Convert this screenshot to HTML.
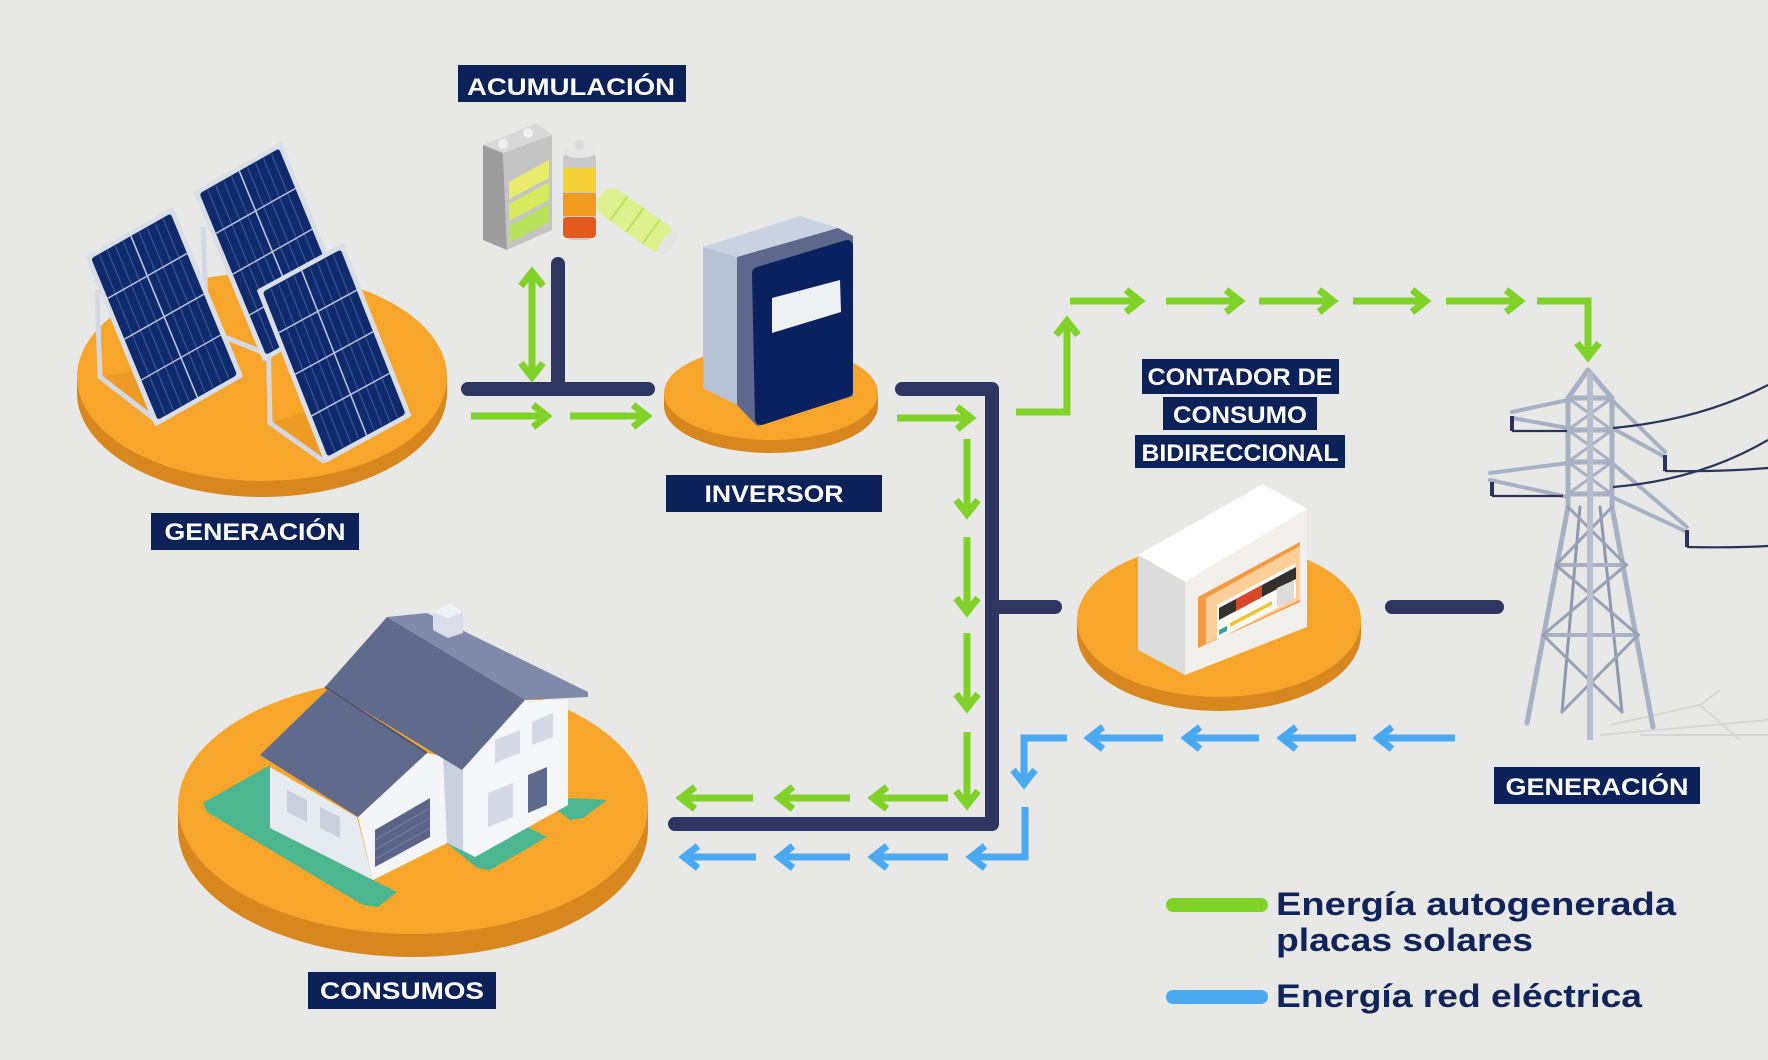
<!DOCTYPE html>
<html><head><meta charset="utf-8"><style>
html,body{margin:0;padding:0;background:#e8e8e6;}
svg{display:block;}
</style></head><body>
<svg width="1768" height="1060" viewBox="0 0 1768 1060" xmlns="http://www.w3.org/2000/svg">
<defs>
<g id="panel">
<rect x="0" y="0" width="100" height="200" fill="#d9dee9" rx="2"/>
<rect x="5" y="5" width="90" height="190" fill="#0f2a6c" rx="3"/>
<g stroke="#34508f" stroke-width="1.4">
<line x1="14" y1="6" x2="14" y2="194"/><line x1="23" y1="6" x2="23" y2="194"/><line x1="32" y1="6" x2="32" y2="194"/><line x1="41" y1="6" x2="41" y2="194"/>
<line x1="59" y1="6" x2="59" y2="194"/><line x1="68" y1="6" x2="68" y2="194"/><line x1="77" y1="6" x2="77" y2="194"/><line x1="86" y1="6" x2="86" y2="194"/>
</g>
<g stroke="#b9c4de" stroke-width="1.6">
<line x1="5" y1="52" x2="95" y2="52"/><line x1="5" y1="100" x2="95" y2="100"/><line x1="5" y1="148" x2="95" y2="148"/>
<line x1="50" y1="5" x2="50" y2="195"/>
</g>
</g>
</defs>
<rect width="1768" height="1060" fill="#e8e8e6"/>

<!-- discs -->
<g>
<ellipse cx="262" cy="393" rx="185" ry="104" fill="#d8861e"/>
<rect x="77" y="377" width="370" height="16" fill="#d8861e"/>
<ellipse cx="262" cy="377" rx="185" ry="104" fill="#f7a52b"/>

<ellipse cx="771" cy="406" rx="107" ry="47" fill="#d8861e"/>
<rect x="664" y="393" width="214" height="13" fill="#d8861e"/>
<ellipse cx="771" cy="393" rx="107" ry="47" fill="#f7a52b"/>

<ellipse cx="1219" cy="634" rx="142" ry="77" fill="#d8861e"/>
<rect x="1077" y="620" width="284" height="14" fill="#d8861e"/>
<ellipse cx="1219" cy="620" rx="142" ry="77" fill="#f7a52b"/>

<ellipse cx="413" cy="829" rx="235" ry="128" fill="#d8861e"/>
<rect x="178" y="806" width="470" height="23" fill="#d8861e"/>
<ellipse cx="413" cy="806" rx="235" ry="128" fill="#f7a52b"/>
</g>

<!-- panel shadows -->
<g fill="#e6951f" opacity="0.6">
<polygon points="100,377 157,420 242,378 200,360"/>
<polygon points="270,423 325,462 412,410 360,395"/>
</g>
<!-- panel legs -->
<g stroke="#d3d8e4" stroke-width="5" fill="none" stroke-linejoin="round">
<polyline points="97,290 100,377 157,421"/>
<polyline points="203,227 207,330 262,352"/>
<polyline points="268,327 270,423 325,462"/>
</g>
<!-- panels -->
<use href="#panel" transform="matrix(0.883,-0.5,0.35,0.85,193.3,191.7)"/>
<use href="#panel" transform="matrix(0.883,-0.5,0.35,0.85,85,256.7)"/>
<use href="#panel" transform="matrix(0.866,-0.473,0.3415,0.8665,256.7,290)"/>

<!-- batteries -->
<g>
<polygon points="483,145 537,123 552,135 503,153" fill="#d8d8d8"/>
<polygon points="483,145 503,153 507,250 483,240" fill="#9d9d9d"/>
<polygon points="503,153 552,135 552,230 507,250" fill="#c4c4c4"/>
<circle cx="503" cy="144" r="5" fill="#f0f0f0"/>
<circle cx="528" cy="133" r="5" fill="#f0f0f0"/>
<polygon points="509,182 549,160 549,178 509,199" fill="#e9ec6a"/>
<polygon points="509,204 549,182 549,200 509,221" fill="#d5ea5e"/>
<polygon points="509,226 549,204 549,222 509,243" fill="#b8e25c"/>
<rect x="563" y="150" width="33" height="90" rx="10" fill="#c9c9c9"/>
<rect x="563" y="168" width="33" height="24" fill="#f4cf35"/>
<rect x="563" y="193" width="33" height="23" fill="#f29a22"/>
<rect x="563" y="217" width="33" height="21" rx="4" fill="#e25a1c"/>
<ellipse cx="579.5" cy="152" rx="16" ry="6" fill="#e6e6e6"/>
<rect x="575" y="140" width="9" height="10" rx="3" fill="#dcdcdc"/>
<g transform="translate(635,220) rotate(35.5)">
<rect x="-42" y="-15" width="84" height="30" rx="12" fill="#dff18f"/>
<line x1="-20" y1="-15" x2="-20" y2="15" stroke="#bfdf5c" stroke-width="2"/>
<line x1="0" y1="-15" x2="0" y2="15" stroke="#bfdf5c" stroke-width="2"/>
<line x1="20" y1="-15" x2="20" y2="15" stroke="#bfdf5c" stroke-width="2"/>
<ellipse cx="40" cy="0" rx="6" ry="14" fill="#e4e4e4"/>
</g>
</g>

<!-- inverter -->
<g>
<polygon points="703,247 737,257 737,405 703,388" fill="#b6c2d4"/>
<polygon points="703,247 800,216 838,228 737,257" fill="#c9d2e0"/>
<polygon points="737,257 838,228 853,236 853,396 757,426 737,405" fill="#5d688c"/>
<polygon points="758,273 847,246 847,391 761,419" fill="#0a2160" stroke="#0a2160" stroke-width="12" stroke-linejoin="round"/>
<polygon points="772,298 840,280 841,312 772,333" fill="#eef0f3"/>
</g>

<!-- navy wires -->
<g stroke="#2d3560" stroke-width="14" fill="none" stroke-linecap="round" stroke-linejoin="round">
<path d="M468 389H648"/>
<path d="M558 264V389"/>
<path d="M902 389H992V824H675"/>
<path d="M992 607H1055"/>
<path d="M1392 607H1497"/>
</g>

<!-- green arrows -->
<g stroke="#80d228" stroke-width="7" fill="none" stroke-linejoin="miter" stroke-miterlimit="10">
<path d="M471 416H545M533 405L547 416L533 427"/>
<path d="M570 416H645M633 405L647 416L633 427"/>
<path d="M897 418H969M957 407L971 418L957 429"/>
<path d="M1016 412H1067V323M1056 335L1067 321L1078 335"/>
<path d="M1070 301H1138M1126 290L1140 301L1126 312"/>
<path d="M1166 301H1238M1226 290L1240 301L1226 312"/>
<path d="M1259 301H1331M1319 290L1333 301L1319 312"/>
<path d="M1353 301H1424M1412 290L1426 301L1412 312"/>
<path d="M1446 301H1518M1506 290L1520 301L1506 312"/>
<path d="M1537 301H1588V355M1577 343L1588 357L1599 343"/>
<path d="M532 274V375M521 286L532 272L543 286M521 363L532 377L543 363"/>
<path d="M967 439V512M956 500L967 514L978 500"/>
<path d="M967 537V610M956 598L967 612L978 598"/>
<path d="M967 633V706M956 694L967 708L978 694"/>
<path d="M967 732V803M956 791L967 805L978 791"/>
<path d="M753 798H683M695 787L681 798L695 809"/>
<path d="M850 798H781M793 787L779 798L793 809"/>
<path d="M948 798H875M887 787L873 798L887 809"/>
</g>
<!-- blue arrows -->
<g stroke="#4aa9f1" stroke-width="7" fill="none" stroke-linejoin="miter" stroke-miterlimit="10">
<path d="M756 857H686M698 846L684 857L698 868"/>
<path d="M850 857H781M793 846L779 857L793 868"/>
<path d="M948 857H875M887 846L873 857L887 868"/>
<path d="M1025 807V857H973M985 846L971 857L985 868"/>
<path d="M1163 738H1091M1103 727L1089 738L1103 749"/>
<path d="M1259 738H1188M1200 727L1186 738L1200 749"/>
<path d="M1356 738H1284M1296 727L1282 738L1296 749"/>
<path d="M1455 738H1380M1392 727L1378 738L1392 749"/>
<path d="M1067 738H1024V782M1013 770L1024 784L1035 770"/>
</g>

<!-- meter -->
<g>
<polygon points="1138,555 1263,484 1307,509 1185,582" fill="#ffffff"/>
<polygon points="1138,555 1185,582 1185,675 1138,650" fill="#dcdcdc"/>
<polygon points="1185,582 1307,509 1307,627 1185,675" fill="#f2f0ec"/>
<polygon points="1198,597 1300,542 1300,602 1198,648" fill="#f59a40"/>
<polygon points="1206,598 1300,546 1300,600 1206,644" fill="#fbcf97"/>
<polygon points="1217,605 1296,563 1296,598 1217,640" fill="#fbfaf7"/>
<polygon points="1219,608 1296,567 1296,579 1219,620" fill="#33302e"/>
<polygon points="1236,599 1262,585 1262,597 1236,611" fill="#d9472b"/>
<polygon points="1230,623 1272,601 1272,605 1230,627" fill="#f1c232"/>
<polygon points="1219,630 1227,626 1227,631 1219,635" fill="#3aa39a"/>
<polygon points="1277,588 1294,580 1294,600 1277,607" fill="#dcdcdc"/>
</g>

<!-- tower shadow -->
<g stroke="#d6d6d6" stroke-width="2" fill="none">
<path d="M1600 735L1768 720M1610 725L1700 705L1740 740M1700 705L1720 690M1640 735L1768 735"/>
</g>
<!-- tower -->
<g stroke="#a8b0c3" stroke-width="5" fill="none" stroke-linecap="round">
<path d="M1588 370L1568 398M1588 370L1612 398"/>
<path d="M1568 398V507M1612 398V507"/>
<path d="M1568 398H1612M1568 430H1612M1568 462H1612M1568 494H1612"/>
<path d="M1568 398L1612 430L1568 462L1612 494M1612 398L1568 430L1612 462L1568 494" stroke-width="3"/>
<path d="M1568 507L1527 723M1612 507L1653 727"/>
<path d="M1580 507L1562 712M1600 507L1622 712" stroke="#8f98ae" stroke-width="3"/>
<path d="M1556 565H1626M1543 635H1638" stroke-width="4"/>
<path d="M1568 507L1626 565L1543 635L1622 712M1612 507L1556 565L1638 635L1562 712" stroke-width="3" stroke="#98a1b6"/>
<path d="M1512 412L1568 400M1512 418L1568 428M1612 400L1665 452M1612 428L1665 457" stroke-width="4"/>
<path d="M1490 473L1568 463M1490 480L1568 497M1612 463L1687 527M1612 497L1687 532" stroke-width="4"/>
</g>
<path d="M1590 372V740" stroke="#b7bfcf" stroke-width="6"/>
<g stroke="#2b3358" stroke-width="2.2" fill="none">
<path d="M1512 416V431M1665 455V471M1492 482V496M1687 530V547" stroke-width="4"/>
<path d="M1512 431H1567M1492 496H1563"/>
<path d="M1665 471Q1720 472 1768 468"/>
<path d="M1687 547Q1730 548 1768 546"/>
<path d="M1613 428Q1700 420 1768 385"/>
<path d="M1613 487Q1700 480 1768 440"/>
</g>

<!-- house -->
<g>
<polygon points="203,803 270,765 270,828 373,880 397,892 378,907 363,905 207,812" fill="#4cb690"/>
<polygon points="443,840 475,857 528,827 547,837 490,870 477,868" fill="#4cb690"/>
<polygon points="557,805 570,798 607,800 583,818 570,820 557,810" fill="#4cb690"/>
<polygon points="270,767 357,817 373,880 270,828" fill="#e6eaf1"/>
<polygon points="287,790 307,800 307,822 287,812" fill="#c9cfdc"/>
<polygon points="320,807 340,817 340,838 320,828" fill="#c9cfdc"/>
<polygon points="358,817 427,753 447,757 447,843 373,880" fill="#f3f5f9"/>
<polygon points="375,830 430,798 430,837 375,867" fill="#5a6489"/>
<g stroke="#6f799b" stroke-width="1.5"><line x1="375" y1="840" x2="430" y2="808"/><line x1="375" y1="850" x2="430" y2="818"/><line x1="375" y1="859" x2="430" y2="828"/></g>
<polygon points="443,757 463,768 475,857 447,843" fill="#c9d1de"/>
<polygon points="463,768 523,700 568,700 568,805 475,857 463,850" fill="#f4f6fa"/>
<polygon points="495,740 520,730 520,753 495,763" fill="#d5d9e6"/>
<polygon points="532,722 553,713 553,737 532,745" fill="#d5d9e6"/>
<polygon points="488,793 513,783 513,817 488,827" fill="#d5d9e6"/>
<polygon points="528,775 547,767 547,805 528,813" fill="#5e6a8c"/>
<polygon points="260,755 327,690 427,753 358,817" fill="#5f6a8d"/>
<polygon points="387,617 525,700 462,770 325,687" fill="#5f6a8d"/>
<polygon points="387,617 427,613 588,692 588,697 525,700" fill="#7f89aa"/>
<line x1="325" y1="687" x2="427" y2="753" stroke="#4b5577" stroke-width="2"/>
<polygon points="433,612 450,603 463,612 463,633 448,638 433,630" fill="#d9dee8"/>
<polygon points="433,612 450,603 463,612 448,618" fill="#eef1f6"/>
</g>

<!-- labels -->
<g fill="#0c2157">
<rect x="458" y="65" width="228" height="37"/>
<rect x="151" y="513" width="208" height="37"/>
<rect x="666" y="475" width="216" height="37"/>
<rect x="1142" y="359" width="197" height="35"/>
<rect x="1163" y="397" width="154" height="33"/>
<rect x="1135" y="435" width="210" height="33"/>
<rect x="1494" y="767" width="206" height="37"/>
<rect x="308" y="972" width="188" height="37"/>
</g>
<g font-family="Liberation Sans, Arial, sans-serif" font-weight="bold" font-size="24" fill="#ffffff" text-anchor="middle">
<text x="571" y="95" textLength="208" lengthAdjust="spacingAndGlyphs">ACUMULACIÓN</text>
<text x="255" y="540" textLength="181" lengthAdjust="spacingAndGlyphs">GENERACIÓN</text>
<text x="774" y="502" textLength="139" lengthAdjust="spacingAndGlyphs">INVERSOR</text>
<text x="1240" y="385" textLength="185" lengthAdjust="spacingAndGlyphs">CONTADOR DE</text>
<text x="1240" y="423" textLength="134" lengthAdjust="spacingAndGlyphs">CONSUMO</text>
<text x="1240" y="461" textLength="197" lengthAdjust="spacingAndGlyphs">BIDIRECCIONAL</text>
<text x="1597" y="795" textLength="183" lengthAdjust="spacingAndGlyphs">GENERACIÓN</text>
<text x="402" y="999" textLength="164" lengthAdjust="spacingAndGlyphs">CONSUMOS</text>
</g>

<!-- legend -->
<g stroke-width="14" stroke-linecap="round">
<path d="M1173 905H1261" stroke="#80d228"/>
<path d="M1173 997H1261" stroke="#4aa9f1"/>
</g>
<g font-family="Liberation Sans, Arial, sans-serif" font-weight="bold" font-size="32" fill="#102459">
<text x="1276" y="915" textLength="400" lengthAdjust="spacingAndGlyphs">Energía autogenerada</text>
<text x="1276" y="951" textLength="257" lengthAdjust="spacingAndGlyphs">placas solares</text>
<text x="1276" y="1007" textLength="366" lengthAdjust="spacingAndGlyphs">Energía red eléctrica</text>
</g>
</svg>
</body></html>
